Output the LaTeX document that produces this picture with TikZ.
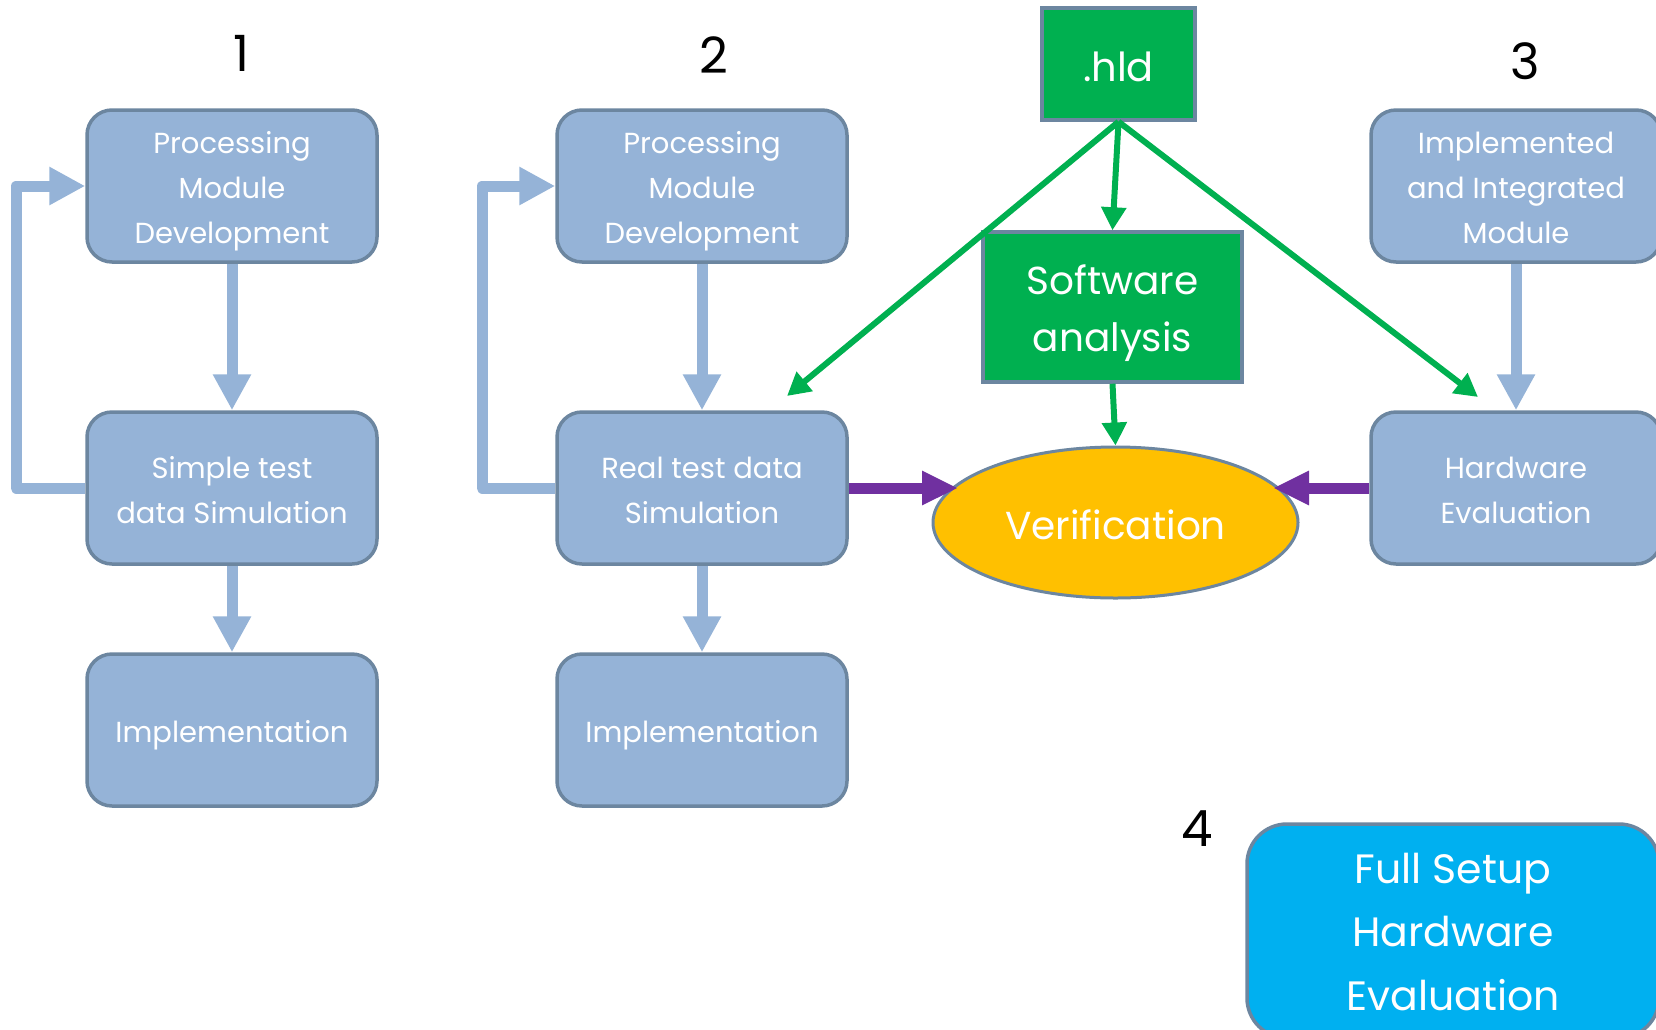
\documentclass[tikz,border=0pt]{standalone}
\usepackage{fontspec}
\setmainfont{Poppins}
\usetikzlibrary{arrows.meta,shapes.geometric}

\definecolor{stagefill}{RGB}{149,179,215}
\definecolor{edgegray}{RGB}{108,134,160}
\definecolor{hldgreen}{RGB}{0,176,80}
\definecolor{verifgold}{RGB}{255,192,0}
\definecolor{linkpurple}{RGB}{112,48,160}
\definecolor{setupblue}{RGB}{0,176,240}

\tikzset{
  % fixed text box sizes place the last baseline below the node centre
  baselinedrop/.style={text height=#1, text depth=0pt},
  stagebox/.style={draw=edgegray, line width=3.5pt, fill=stagefill,
    rounded corners=25pt, minimum width=290pt, minimum height=152pt,
    inner sep=0pt, align=center, text=white,
    font=\fontsize{29}{45}\selectfont},
  threeline/.style={baselinedrop=114pt},
  twoline/.style={baselinedrop=70pt},
  oneline/.style={baselinedrop=24.4pt},
  greenbox/.style={draw=edgegray, line width=3.5pt, fill=hldgreen,
    inner sep=0pt, align=center, text=white},
  stepnum/.style={text=black, font=\fontsize{50}{50}\selectfont},
  flowarrow/.style={draw=stagefill, line width=11pt, line join=round,
    -{Triangle[length=36pt,width=36pt]}},
  hldarrow/.style={draw=hldgreen, line width=6pt,
    -{Triangle[length=23pt,width=24pt]}},
  cmparrow/.style={draw=linkpurple, line width=11pt,
    -{Triangle[length=36pt,width=32pt]}}
}

\begin{document}
\begin{tikzpicture}[x=1pt, y=-1pt]
  \useasboundingbox (0,0) rectangle (1656,1029);

  % step numbers
  \node[stepnum] (n1) at (241,53) {1};
  \node[stepnum] (n2) at (714,55) {2};
  \node[stepnum] (n3) at (1525,61) {3};
  \node[stepnum] (n4) at (1197,829) {4};

  % column 1
  \node[stagebox, threeline] (p1) at (232,186) {Processing\\Module\\Development};
  \node[stagebox, twoline] (s1) at (232,488) {Simple test\\data Simulation};
  \node[stagebox, oneline] (i1) at (232,730) {Implementation};

  % column 2
  \node[stagebox, threeline] (p2) at (702,186) {Processing\\Module\\Development};
  \node[stagebox, twoline] (r2) at (702,488) {Real test data\\Simulation};
  \node[stagebox, oneline] (i2) at (702,730) {Implementation};

  % column 3
  \node[stagebox, threeline] (m3) at (1516,186) {Implemented\\and Integrated\\Module};
  \node[stagebox, twoline] (h3) at (1516,488) {Hardware\\Evaluation};

  % reference data and software model
  \node[greenbox, minimum width=153pt, minimum height=112pt,
        font=\fontsize{40}{40}\selectfont, baselinedrop=35.4pt]
        (hld) at (1118.5,64) {.hld};
  \node[greenbox, minimum width=259pt, minimum height=150pt,
        font=\fontsize{39}{57}\selectfont, baselinedrop=89.4pt]
        (sw) at (1112.5,307) {Software\\analysis};

  % verification
  \node[ellipse, draw=edgegray, line width=3pt, fill=verifgold,
        minimum width=365pt, minimum height=151pt, inner sep=0pt,
        text=white, font=\fontsize{39}{39}\selectfont, baselinedrop=33.6pt]
        (ver) at (1115.5,522.5) {Verification};

  % full setup
  \node[draw=edgegray, line width=3.5pt, fill=setupblue, rounded corners=40pt,
        minimum width=412pt, minimum height=214pt, inner sep=0pt,
        align=center, text=white, font=\fontsize{41}{63.5}\selectfont,
        baselinedrop=158pt]
        (fs) at (1453,931) {Full Setup\\Hardware\\Evaluation};

  % free ends of the diagonal arrows
  \coordinate (gl) at (787,396);
  \coordinate (gr) at (1478,397);
  \coordinate (vl) at (958,488);
  \coordinate (vr) at (1273,488);

  % flow arrows
  \draw[flowarrow] (p1.south) -- (s1.north);
  \draw[flowarrow] (s1.south) -- (i1.north);
  \draw[flowarrow] (s1.west) -- ++(-69,0) |- (p1.west);

  \draw[flowarrow] (p2.south) -- (r2.north);
  \draw[flowarrow] (r2.south) -- (i2.north);
  \draw[flowarrow] (r2.west) -- ++(-73,0) |- (p2.west);

  \draw[flowarrow] (m3.south) -- (h3.north);

  % .hld distribution
  \draw[hldarrow] (hld.south) -- (sw.north);
  \draw[hldarrow] (hld.south) -- (gl);
  \draw[hldarrow] (hld.south) -- (gr);
  \draw[hldarrow] (sw.south) -- (ver.north);

  % comparisons
  \draw[cmparrow] (r2.east) -- (vl);
  \draw[cmparrow] (h3.west) -- (vr);
\end{tikzpicture}
\end{document}
